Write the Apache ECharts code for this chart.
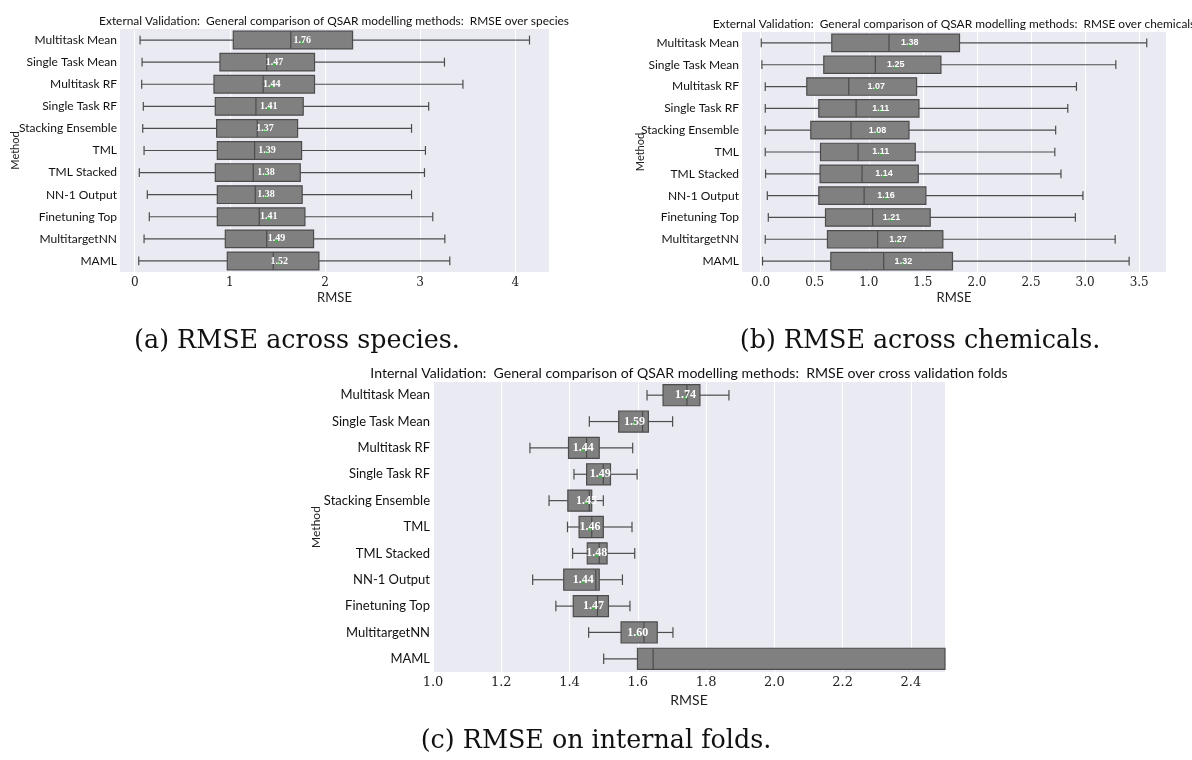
<!DOCTYPE html>
<html><head><meta charset="utf-8">
<script src="https://cdn.jsdelivr.net/npm/echarts@6/dist/echarts.min.js"></script>
<style>html,body{margin:0;padding:0;background:#fff}#c{width:1192px;height:760px}</style>
</head><body><div id="c"></div>
<script>
const methods = ['Multitask Mean','Single Task Mean','Multitask RF','Single Task RF','Stacking Ensemble','TML','TML Stacked','NN-1 Output','Finetuning Top','MultitargetNN','MAML'];

// each row: [whisker low, Q1, median, Q3, whisker high]
const speciesBox = [
  [0.056,1.036,1.64,2.29,4.15],
  [0.077,0.896,1.387,1.89,3.256],
  [0.073,0.833,1.35,1.89,3.45],
  [0.09,0.847,1.274,1.771,3.09],
  [0.084,0.861,1.288,1.712,2.91],
  [0.098,0.868,1.26,1.754,3.056],
  [0.048,0.847,1.246,1.74,3.046],
  [0.132,0.868,1.267,1.76,2.91],
  [0.153,0.868,1.309,1.789,3.133],
  [0.098,0.952,1.387,1.88,3.26],
  [0.042,0.973,1.456,1.936,3.312]
];
const speciesMean = [1.76,1.47,1.44,1.41,1.37,1.39,1.38,1.38,1.41,1.49,1.52];

const chemBox = [
  [0.006,0.658,1.187,1.839,3.57],
  [0.012,0.584,1.061,1.667,3.284],
  [0.043,0.427,0.815,1.442,2.92],
  [0.043,0.538,0.883,1.464,2.84],
  [0.043,0.464,0.836,1.372,2.728],
  [0.043,0.554,0.901,1.43,2.72],
  [0.046,0.55,0.938,1.458,2.777],
  [0.062,0.538,0.957,1.528,2.98],
  [0.071,0.6,1.036,1.568,2.91],
  [0.043,0.618,1.082,1.685,3.278],
  [0.018,0.649,1.138,1.774,3.407]
];
const chemMean = [1.38,1.25,1.07,1.11,1.08,1.11,1.14,1.16,1.21,1.27,1.32];

const foldBox = [
  [1.627,1.674,1.744,1.782,1.867],
  [1.458,1.544,1.614,1.631,1.702],
  [1.284,1.397,1.45,1.487,1.585],
  [1.413,1.45,1.499,1.52,1.598],
  [1.34,1.395,1.458,1.465,1.499],
  [1.394,1.428,1.465,1.499,1.583],
  [1.409,1.452,1.487,1.51,1.591],
  [1.292,1.383,1.477,1.487,1.555],
  [1.36,1.411,1.482,1.514,1.577],
  [1.456,1.551,1.618,1.657,1.703],
  [1.5,1.599,1.645,2.9,4.0]
];
const foldMean = [1.74,1.59,1.44,1.49,1.45,1.46,1.48,1.44,1.47,1.60,null];

const speciesTicks = [0,1,2,3,4];
const chemTicks = [0,0.5,1,1.5,2,2.5,3,3.5];
const foldTicks = [1.0,1.2,1.4,1.6,1.8,2.0,2.2,2.4];
const speciesRange = [-0.155, 4.355];
const chemRange = [-0.172, 3.748];
const foldRange = [1.0, 2.5];

const titles = [
  'External Validation:  General comparison of QSAR modelling methods:  RMSE over species',
  'External Validation:  General comparison of QSAR modelling methods:  RMSE over chemicals',
  'Internal Validation:  General comparison of QSAR modelling methods:  RMSE over cross validation folds'
];
const captions = ['(a) RMSE across species.', '(b) RMSE across chemicals.', '(c) RMSE on internal folds.'];

const EDGE = '#4c4c4c', FILL = '#808080', BG = '#eaeaf2';
const SANS = 'Lato, "DejaVu Sans", sans-serif';
const SERIF = '"DejaVu Serif", serif';

function rows(box, mean) {
  return box.map((b, i) => [i, b[0], b[1], b[2], b[3], b[4], mean[i] == null ? NaN : mean[i]]);
}

function makeRender(labelFont) {
  return function (params, api) {
    const cs = params.coordSys;
    const xmin = cs.x, xmax = cs.x + cs.width;
    const cat = api.value(0);
    const cl = v => Math.min(Math.max(v, xmin), xmax);
    const rawX = [1,2,3,4,5].map(i => api.coord([api.value(i), cat])[0]);
    const px = rawX.map(cl);
    const cy = api.coord([api.value(1), cat])[1];
    const band = api.size([0, 1])[1];
    const bw = band * 0.8;
    const lw = 1.2;
    const ls = {stroke: EDGE, lineWidth: lw};
    const ch = [];
    ch.push({type:'line', shape:{x1:px[0], y1:cy, x2:px[1], y2:cy}, style:ls});
    ch.push({type:'line', shape:{x1:px[3], y1:cy, x2:px[4], y2:cy}, style:ls});
    if (rawX[0] >= xmin && rawX[0] <= xmax)
      ch.push({type:'line', shape:{x1:px[0], y1:cy-bw/4, x2:px[0], y2:cy+bw/4}, style:ls});
    if (rawX[4] >= xmin && rawX[4] <= xmax)
      ch.push({type:'line', shape:{x1:px[4], y1:cy-bw/4, x2:px[4], y2:cy+bw/4}, style:ls});
    ch.push({type:'rect', shape:{x:px[1], y:cy-bw/2, width:px[3]-px[1], height:bw}, style:{fill:FILL, stroke:EDGE, lineWidth:lw}});
    ch.push({type:'line', shape:{x1:px[2], y1:cy-bw/2, x2:px[2], y2:cy+bw/2}, style:ls});
    const m = api.value(6);
    if (isFinite(m)) {
      const mx = api.coord([m, cat])[0];
      if (mx >= xmin && mx <= xmax) {
        ch.push({type:'polygon', shape:{points:[[mx, cy], [mx-2, cy+3.5], [mx+2, cy+3.5]]}, style:{fill:'#3cb043'}});
        ch.push({type:'text', x: mx, y: cy, style:{text: m.toFixed(2), fill:'#ffffff', font: labelFont, align:'center', verticalAlign:'middle'}});
      }
    }
    return {type:'group', children: ch};
  };
}

function xAxisDef(gi, range, ticks, fmt, fontSize, gap, labelMargin) {
  return {
    type:'value', gridIndex: gi, min: range[0], max: range[1],
    name:'RMSE', nameLocation:'middle', nameGap: gap, nameMoveOverlap: false,
    nameTextStyle:{fontFamily: SANS, fontSize: fontSize, color:'#222'},
    axisLine:{show:false},
    axisTick:{show:false, customValues: ticks},
    axisLabel:{fontFamily: SERIF, fontSize: fontSize - 1, color:'#222', margin: labelMargin, customValues: ticks, formatter: v => fmt(v)},
    splitLine:{show:true, lineStyle:{color:'#ffffff', width:1}}
  };
}
function yAxisDef(gi, fontSize, gap) {
  return {
    type:'category', gridIndex: gi, data: methods, inverse: true,
    name:'Method', nameLocation:'middle', nameGap: gap, nameRotate: 90, nameMoveOverlap: false,
    nameTextStyle:{fontFamily: SANS, fontSize: fontSize - 1, color:'#222'},
    axisLine:{show:false}, axisTick:{show:false},
    axisLabel:{fontFamily: SANS, fontSize: fontSize, color:'#111', margin: 3},
    splitLine:{show:false}
  };
}

const chart = echarts.init(document.getElementById('c'), null, {renderer:'canvas'});
const option = {
  animation: false,
  backgroundColor: '#ffffff',
  grid: [
    {left:120, top:29, width:429, height:243, show:true, backgroundColor:BG, borderWidth:0},
    {left:742, top:32, width:424, height:240, show:true, backgroundColor:BG, borderWidth:0},
    {left:433, top:382, width:512, height:290, show:true, backgroundColor:BG, borderWidth:0}
  ],
  xAxis: [
    xAxisDef(0, speciesRange, speciesTicks, v => String(v), 13, 19, 5),
    xAxisDef(1, chemRange, chemTicks, v => v.toFixed(1), 13, 19, 5),
    xAxisDef(2, foldRange, foldTicks, v => v.toFixed(1), 14, 21, 4)
  ],
  yAxis: [ yAxisDef(0, 12, 99), yAxisDef(1, 12, 96), yAxisDef(2, 13, 111) ],
  series: [
    {type:'custom', xAxisIndex:0, yAxisIndex:0, renderItem: makeRender('bold 10px "Liberation Serif", serif'), encode:{x:[1,2,3,4,5], y:0}, data: rows(speciesBox, speciesMean)},
    {type:'custom', xAxisIndex:1, yAxisIndex:1, renderItem: makeRender('bold 9px "Liberation Sans", sans-serif'), encode:{x:[1,2,3,4,5], y:0}, data: rows(chemBox, chemMean)},
    {type:'custom', xAxisIndex:2, yAxisIndex:2, renderItem: makeRender('bold 12px "Liberation Serif", serif'), encode:{x:[1,2,3,4,5], y:0}, data: rows(foldBox, foldMean)}
  ],
  graphic: [
    {type:'text', x:334, y:21, style:{text: titles[0], font:'11.9px ' + SANS, fill:'#111', align:'center', verticalAlign:'middle'}},
    {type:'text', x:954, y:24, style:{text: titles[1], font:'11.9px ' + SANS, fill:'#111', align:'center', verticalAlign:'middle'}},
    {type:'text', x:689, y:373, style:{text: titles[2], font:'14.1px ' + SANS, fill:'#111', align:'center', verticalAlign:'middle'}},
    {type:'text', x:297, y:341, style:{text: captions[0], font:'25.4px ' + SERIF, fill:'#111', align:'center', verticalAlign:'middle'}},
    {type:'text', x:920, y:341, style:{text: captions[1], font:'25.4px ' + SERIF, fill:'#111', align:'center', verticalAlign:'middle'}},
    {type:'text', x:596, y:741, style:{text: captions[2], font:'25.4px ' + SERIF, fill:'#111', align:'center', verticalAlign:'middle'}}
  ]
};
chart.setOption(option);
</script>
</body></html>
